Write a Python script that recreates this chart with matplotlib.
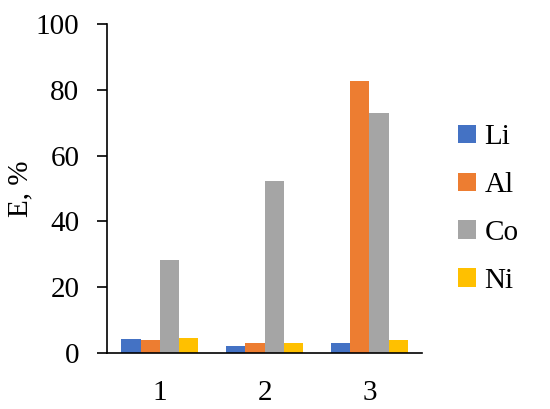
import numpy as np
import matplotlib
matplotlib.use("Agg")
import matplotlib.pyplot as plt

plt.rcParams['font.family'] = ['Liberation Serif', 'DejaVu Serif']

# data
categories = ['1', '2', '3']
series = ['Li', 'Al', 'Co', 'Ni']
li = [4.1, 1.9, 2.9]
al = [3.9, 2.9, 82.6]
co = [28.1, 52.3, 72.9]
ni = [4.5, 2.9, 3.9]
colors = ['#4472C4', '#ED7D31', '#A5A5A5', '#FFC000']

values = [li, al, co, ni]

fig = plt.figure(figsize=(5.5, 4.09), dpi=100)
ax = fig.add_axes([0.195, 0.1377, 0.572, 0.8029])

x = np.arange(1, len(categories) + 1)
width = 0.73 / len(series)
for i, (name, vals) in enumerate(zip(series, values)):
    offset = (i - 1.5) * width
    ax.bar(x + offset, vals, width, color=colors[i], label=name, zorder=2)

ax.set_xlim(0.5, 3.5)
ax.set_ylim(0, 100)
ax.set_yticks([0, 20, 40, 60, 80, 100])
ax.set_xticks(x)
ax.set_xticklabels(categories)
ax.tick_params(axis='y', length=7, width=1.2, pad=13, labelsize=21)
ax.tick_params(axis='x', length=0, pad=20, labelsize=21)
ax.set_ylabel('E, %', fontsize=21, labelpad=2)

for s in ['top', 'right']:
    ax.spines[s].set_visible(False)
ax.spines['left'].set_linewidth(1.2)
ax.spines['bottom'].set_linewidth(1.2)

fig.legend(loc='center left', bbox_to_anchor=(458 / 550, 0.489),
           bbox_transform=fig.transFigure, frameon=False, fontsize=21,
           handlelength=0.6, handleheight=0.6, handletextpad=0.3,
           labelspacing=0.75, borderpad=0, borderaxespad=0)

fig.savefig('out.png', dpi=100)
